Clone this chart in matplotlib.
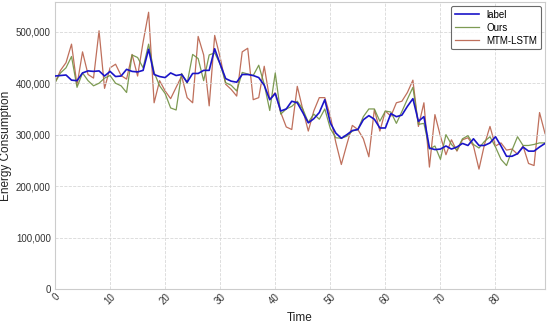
import matplotlib
matplotlib.use("Agg")
import matplotlib.pyplot as plt
from matplotlib.ticker import FuncFormatter

time = list(range(90))

label = [414, 415, 416, 406, 405, 420, 424, 423, 424, 414,
         423, 413, 414, 427, 423, 422, 425, 466, 417, 413,
         411, 420, 415, 417, 402, 419, 419, 425, 425, 467,
         437, 409, 404, 402, 417, 417, 415, 411, 396, 368,
         380, 346, 350, 365, 362, 343, 323, 331, 343, 368,
         323, 303, 293, 300, 308, 310, 329, 337, 330, 313,
         313, 341, 335, 338, 355, 370, 326, 335, 274, 271,
         272, 278, 272, 276, 283, 279, 292, 279, 279, 284,
         296, 278, 258, 258, 263, 276, 268, 268, 276, 283]

ours = [401, 420, 430, 452, 392, 420, 405, 395, 400, 410,
        415, 400, 395, 382, 455, 450, 430, 476, 421, 395,
        380, 352, 348, 419, 400, 456, 448, 405, 455, 459,
        437, 401, 396, 385, 421, 418, 415, 435, 398, 347,
        420, 340, 350, 355, 365, 350, 324, 340, 330, 350,
        312, 294, 293, 297, 307, 310, 335, 350, 350, 326,
        346, 344, 322, 345, 369, 392, 320, 322, 272, 278,
        252, 300, 281, 270, 292, 298, 281, 274, 287, 296,
        276, 252, 240, 270, 296, 279, 279, 281, 284, 284]

mtm = [401, 425, 440, 476, 396, 461, 417, 410, 502, 390,
       430, 437, 415, 408, 456, 414, 480, 538, 362, 405,
       385, 370, 392, 414, 372, 362, 491, 455, 356, 493,
       450, 398, 388, 375, 461, 468, 368, 372, 433, 368,
       382, 343, 315, 310, 394, 349, 307, 346, 372, 372,
       336, 285, 242, 281, 318, 310, 292, 257, 349, 307,
       346, 336, 362, 365, 382, 406, 316, 362, 237, 339,
       297, 261, 290, 268, 290, 294, 278, 233, 281, 316,
       278, 284, 270, 272, 262, 278, 244, 240, 343, 302]

scale = 1000
label_v = [v * scale for v in label]
ours_v = [v * scale for v in ours]
mtm_v = [v * scale for v in mtm]

plt.rcParams['font.family'] = ['Liberation Sans', 'DejaVu Sans']

fig = plt.figure(figsize=(5.5, 3.28), dpi=100)
ax = fig.add_axes([0.1, 0.119, 0.891, 0.875])

ax.plot(time, label_v, color='#1a14c8', lw=1.2, label='label', zorder=3)
ax.plot(time, ours_v, color='#6f9040', lw=0.9, alpha=0.9, label='Ours', zorder=2)
ax.plot(time, mtm_v, color='#b8604a', lw=0.9, alpha=0.9, label='MTM-LSTM', zorder=1)

ax.set_xlim(0, 89)
ax.set_ylim(0, 558000)
ax.set_xticks(range(0, 90, 10))
ax.yaxis.set_major_formatter(FuncFormatter(lambda v, p: f"{int(v):,}"))
ax.tick_params(axis='x', labelrotation=45, labelsize=7, length=0, pad=2, colors='#333333')
ax.tick_params(axis='y', labelsize=7, length=0, pad=3, colors='#333333')
for lab in ax.get_xticklabels():
    lab.set_ha('right')
    lab.set_rotation_mode('anchor')

ax.grid(True, linestyle='--', color='#d8d8d8', lw=0.6)
for s in ax.spines.values():
    s.set_color('#cccccc')
    s.set_linewidth(0.8)

ax.set_xlabel('Time', fontsize=8.5, color='#222222', labelpad=4)
ax.set_ylabel('Energy Consumption', fontsize=8.5, color='#222222', labelpad=3)

leg = ax.legend(loc='upper right', fontsize=7, frameon=True, fancybox=True,
                handlelength=2.4, borderpad=0.4, labelspacing=0.3,
                borderaxespad=0.4)
leg.get_frame().set_edgecolor('#444444')
leg.get_frame().set_linewidth(0.8)

fig.savefig('out.png', dpi=100)
